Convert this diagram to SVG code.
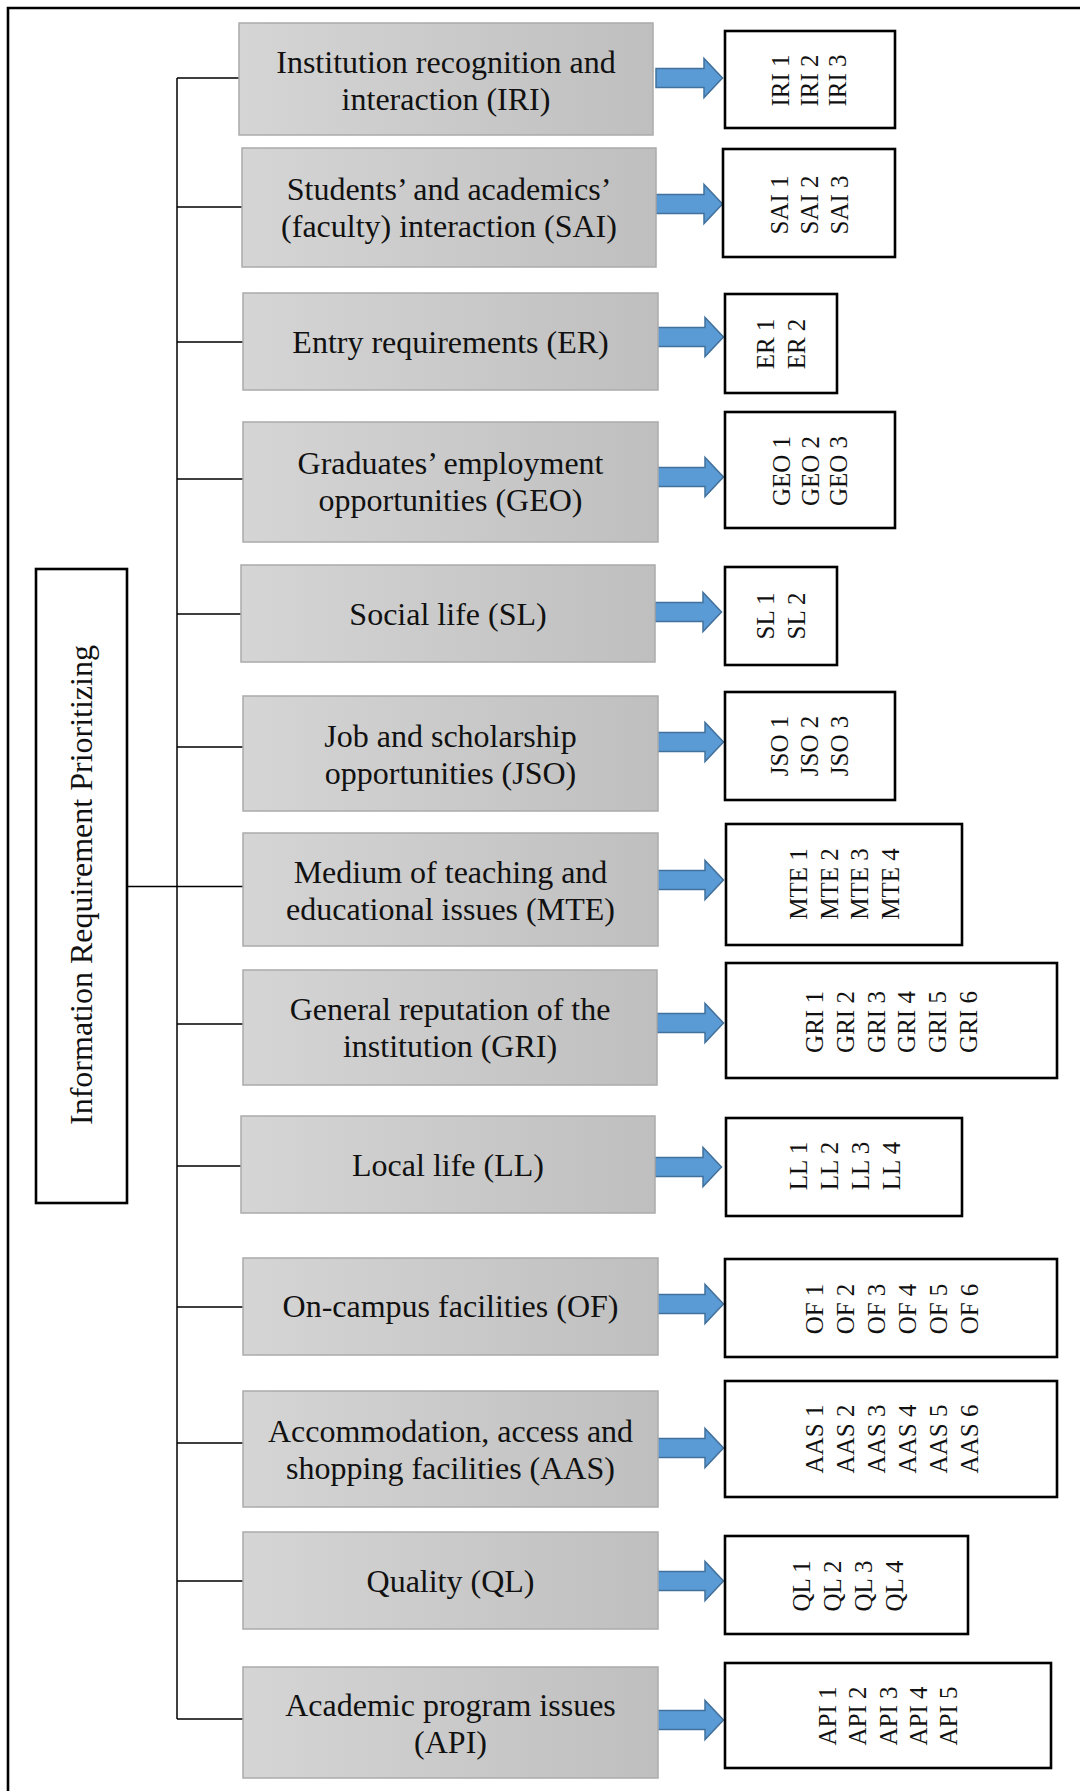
<svg xmlns="http://www.w3.org/2000/svg" xmlns:xlink="http://www.w3.org/1999/xlink" width="1080" height="1791" viewBox="0 0 1080 1791">
<style>
.frame{fill:none;stroke:#000;stroke-width:2.6}
.conn{fill:none;stroke:#000;stroke-width:1.5}
.cat{fill:url(#gray);stroke:#ababab;stroke-width:1.5}
.out{fill:#fff;stroke:#000;stroke-width:2.6}
.root{fill:#fff;stroke:#000;stroke-width:2.6}
.lbl{font-family:"Liberation Serif","Times New Roman",serif;font-size:32px;fill:#111;text-anchor:middle}
.item{font-family:"Liberation Serif","Times New Roman",serif;font-size:25px;fill:#111;text-anchor:middle}
.arrow{fill:#5B9BD5;stroke:#41719C;stroke-width:1.5;stroke-linejoin:miter}
</style>
<defs>
<linearGradient id="gray" x1="0" y1="0" x2="1" y2="0">
<stop offset="0" stop-color="#d5d5d5"/>
<stop offset="1" stop-color="#bfbfbf"/>
</linearGradient>
<path id="arr" class="arrow" d="M0,-9.5 H48 V-19.5 L66.5,0 L48,19.5 V9.5 H0 Z"/>
</defs>

<rect x="0" y="0" width="1080" height="1791" fill="#fff"/>
<path class="frame" d="M8,1791 V8 H1080"/>

<g id="connectors">
<path class="conn" d="M177,78 V1719"/>
<path class="conn" d="M177,78 H239 M177,207 H242 M177,342 H243 M177,479 H243 M177,614 H241 M177,747 H243 M127,886.5 H243 M177,1024 H243 M177,1166 H241 M177,1307 H243 M177,1443 H243 M177,1581 H243 M177,1719 H243"/>
<use xlink:href="#arr" x="656" y="78"/>
<use xlink:href="#arr" x="656" y="204"/>
<use xlink:href="#arr" x="657" y="337"/>
<use xlink:href="#arr" x="657" y="477"/>
<use xlink:href="#arr" x="655" y="612"/>
<use xlink:href="#arr" x="657" y="742"/>
<use xlink:href="#arr" x="657" y="880"/>
<use xlink:href="#arr" x="657" y="1023"/>
<use xlink:href="#arr" x="655" y="1167"/>
<use xlink:href="#arr" x="657" y="1304"/>
<use xlink:href="#arr" x="657" y="1448"/>
<use xlink:href="#arr" x="657" y="1581"/>
<use xlink:href="#arr" x="657" y="1720"/>
</g>

<g id="root">
<rect class="root" x="36" y="569" width="91" height="634"/>
<text class="lbl" transform="translate(92,885) rotate(-90)" x="0" y="0">Information Requirement Prioritizing</text>
</g>

<g id="IRI">
<rect class="cat" x="239" y="23" width="414" height="112"/>
<text class="lbl"><tspan x="446" y="73">Institution recognition and</tspan><tspan x="446" y="110">interaction (IRI)</tspan></text>
</g>
<g id="IRI-items">
<rect class="out" x="725" y="31" width="170" height="97"/>
<text class="item" transform="translate(789.3,80.5) rotate(-90)"><tspan x="0" y="0">IRI 1</tspan><tspan x="0" dy="28.5">IRI 2</tspan><tspan x="0" dy="28.5">IRI 3</tspan></text>
</g>

<g id="SAI">
<rect class="cat" x="242" y="148" width="414" height="119"/>
<text class="lbl"><tspan x="449" y="200">Students’ and academics’</tspan><tspan x="449" y="237">(faculty) interaction (SAI)</tspan></text>
</g>
<g id="SAI-items">
<rect class="out" x="723" y="149" width="172" height="108"/>
<text class="item" transform="translate(788.3,205) rotate(-90)"><tspan x="0" y="0">SAI 1</tspan><tspan x="0" dy="29.8">SAI 2</tspan><tspan x="0" dy="29.8">SAI 3</tspan></text>
</g>

<g id="ER">
<rect class="cat" x="243" y="293" width="415" height="97"/>
<text class="lbl" x="450.5" y="353">Entry requirements (ER)</text>
</g>
<g id="ER-items">
<rect class="out" x="725" y="294" width="112" height="99"/>
<text class="item" transform="translate(773.8,344) rotate(-90)"><tspan x="0" y="0">ER 1</tspan><tspan x="0" dy="31.5">ER 2</tspan></text>
</g>

<g id="GEO">
<rect class="cat" x="243" y="422" width="415" height="120"/>
<text class="lbl"><tspan x="450.5" y="474">Graduates’ employment</tspan><tspan x="450.5" y="511">opportunities (GEO)</tspan></text>
</g>
<g id="GEO-items">
<rect class="out" x="725" y="412" width="170" height="116"/>
<text class="item" transform="translate(789.9,471) rotate(-90)"><tspan x="0" y="0">GEO 1</tspan><tspan x="0" dy="28.7">GEO 2</tspan><tspan x="0" dy="28.7">GEO 3</tspan></text>
</g>

<g id="SL">
<rect class="cat" x="241" y="565" width="414" height="97"/>
<text class="lbl" x="448" y="625">Social life (SL)</text>
</g>
<g id="SL-items">
<rect class="out" x="725" y="567" width="112" height="98"/>
<text class="item" transform="translate(773.8,616) rotate(-90)"><tspan x="0" y="0">SL 1</tspan><tspan x="0" dy="31.5">SL 2</tspan></text>
</g>

<g id="JSO">
<rect class="cat" x="243" y="696" width="415" height="115"/>
<text class="lbl"><tspan x="450.5" y="746.5">Job and scholarship</tspan><tspan x="450.5" y="783.5">opportunities (JSO)</tspan></text>
</g>
<g id="JSO-items">
<rect class="out" x="725" y="692" width="170" height="108"/>
<text class="item" transform="translate(788.3,746) rotate(-90)"><tspan x="0" y="0">JSO 1</tspan><tspan x="0" dy="30">JSO 2</tspan><tspan x="0" dy="30">JSO 3</tspan></text>
</g>

<g id="MTE">
<rect class="cat" x="243" y="833" width="415" height="113"/>
<text class="lbl"><tspan x="450.5" y="883">Medium of teaching and</tspan><tspan x="450.5" y="920">educational issues (MTE)</tspan></text>
</g>
<g id="MTE-items">
<rect class="out" x="726" y="824" width="236" height="121"/>
<text class="item" transform="translate(807.3,884) rotate(-90)"><tspan x="0" y="0">MTE 1</tspan><tspan x="0" dy="30.5">MTE 2</tspan><tspan x="0" dy="30.5">MTE 3</tspan><tspan x="0" dy="30.5">MTE 4</tspan></text>
</g>

<g id="GRI">
<rect class="cat" x="243" y="970" width="414" height="115"/>
<text class="lbl"><tspan x="450" y="1020">General reputation of the</tspan><tspan x="450" y="1057">institution (GRI)</tspan></text>
</g>
<g id="GRI-items">
<rect class="out" x="726" y="963" width="331" height="115"/>
<text class="item" transform="translate(823.3,1022) rotate(-90)"><tspan x="0" y="0">GRI 1</tspan><tspan x="0" dy="30.7">GRI 2</tspan><tspan x="0" dy="30.7">GRI 3</tspan><tspan x="0" dy="30.7">GRI 4</tspan><tspan x="0" dy="30.7">GRI 5</tspan><tspan x="0" dy="30.7">GRI 6</tspan></text>
</g>

<g id="LL">
<rect class="cat" x="241" y="1116" width="414" height="97"/>
<text class="lbl" x="448" y="1176">Local life (LL)</text>
</g>
<g id="LL-items">
<rect class="out" x="726" y="1118" width="236" height="98"/>
<text class="item" transform="translate(807.1,1166) rotate(-90)"><tspan x="0" y="0">LL 1</tspan><tspan x="0" dy="31">LL 2</tspan><tspan x="0" dy="31">LL 3</tspan><tspan x="0" dy="31">LL 4</tspan></text>
</g>

<g id="OF">
<rect class="cat" x="243" y="1258" width="415" height="97"/>
<text class="lbl" x="450.5" y="1317">On-campus facilities (OF)</text>
</g>
<g id="OF-items">
<rect class="out" x="725" y="1259" width="332" height="98"/>
<text class="item" transform="translate(822.6,1309) rotate(-90)"><tspan x="0" y="0">OF 1</tspan><tspan x="0" dy="31">OF 2</tspan><tspan x="0" dy="31">OF 3</tspan><tspan x="0" dy="31">OF 4</tspan><tspan x="0" dy="31">OF 5</tspan><tspan x="0" dy="31">OF 6</tspan></text>
</g>

<g id="AAS">
<rect class="cat" x="243" y="1391" width="415" height="116"/>
<text class="lbl"><tspan x="450.5" y="1442">Accommodation, access and</tspan><tspan x="450.5" y="1479">shopping facilities (AAS)</tspan></text>
</g>
<g id="AAS-items">
<rect class="out" x="725" y="1381" width="332" height="116"/>
<text class="item" transform="translate(822.6,1439) rotate(-90)"><tspan x="0" y="0">AAS 1</tspan><tspan x="0" dy="31">AAS 2</tspan><tspan x="0" dy="31">AAS 3</tspan><tspan x="0" dy="31">AAS 4</tspan><tspan x="0" dy="31">AAS 5</tspan><tspan x="0" dy="31">AAS 6</tspan></text>
</g>

<g id="QL">
<rect class="cat" x="243" y="1532" width="415" height="97"/>
<text class="lbl" x="450.5" y="1591.5">Quality (QL)</text>
</g>
<g id="QL-items">
<rect class="out" x="725" y="1536" width="243" height="98"/>
<text class="item" transform="translate(810,1586) rotate(-90)"><tspan x="0" y="0">QL 1</tspan><tspan x="0" dy="31">QL 2</tspan><tspan x="0" dy="31">QL 3</tspan><tspan x="0" dy="31">QL 4</tspan></text>
</g>

<g id="API">
<rect class="cat" x="243" y="1667" width="415" height="111"/>
<text class="lbl"><tspan x="450.5" y="1715.5">Academic program issues</tspan><tspan x="450.5" y="1752.5">(API)</tspan></text>
</g>
<g id="API-items">
<rect class="out" x="725" y="1663" width="326" height="105"/>
<text class="item" transform="translate(835.8,1716) rotate(-90)"><tspan x="0" y="0">API 1</tspan><tspan x="0" dy="30.4">API 2</tspan><tspan x="0" dy="30.4">API 3</tspan><tspan x="0" dy="30.4">API 4</tspan><tspan x="0" dy="30.4">API 5</tspan></text>
</g>
</svg>
